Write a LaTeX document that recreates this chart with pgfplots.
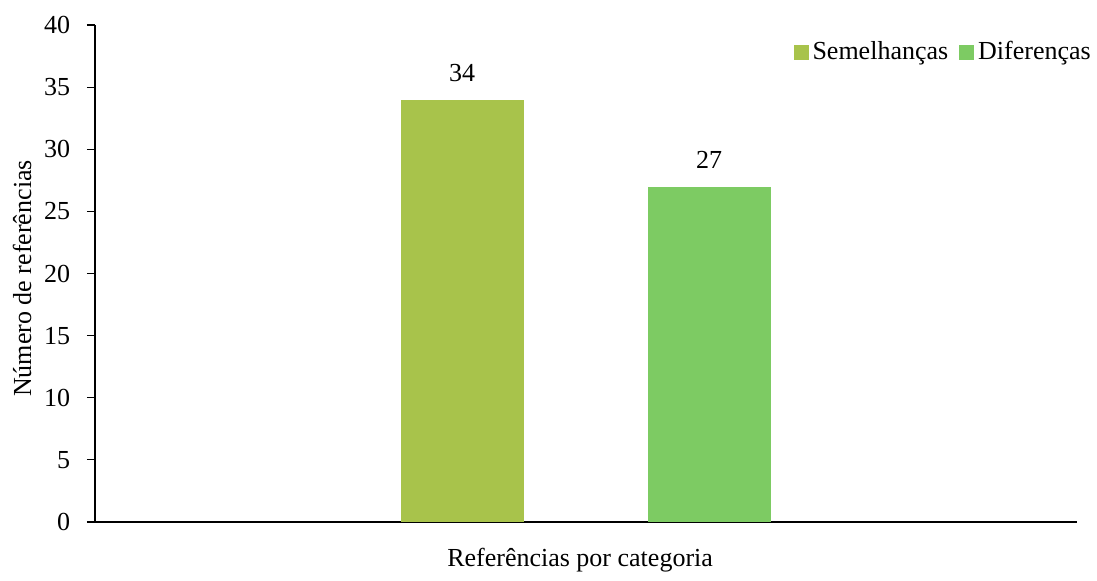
\documentclass[border=0pt]{standalone}
\usepackage{pgfplots}
\pgfplotsset{compat=1.18}
\usepackage{fontspec}
\setmainfont{Liberation Serif}
\definecolor{cA}{HTML}{A8C34B}
\definecolor{cB}{HTML}{7DCB63}
\begin{document}
\fontsize{26bp}{30bp}\selectfont
\begin{tikzpicture}
\begin{axis}[
  name=ax,
  scale only axis,
  width=982bp, height=497bp,
  xmin=-0.486, xmax=3.49,
  ymin=0, ymax=40,
  ytick={0,5,...,40},
  xtick=\empty,
  axis x line=bottom, axis y line=left,
  axis line style={-, line width=1.3bp},
  y axis line style={line width=1.1bp},
  tick style={black, line width=1.1bp},
  major tick length=8bp,
  tick align=outside,
  /pgf/number format/assume math mode=true,
  ticklabel style={font=\fontsize{26bp}{30bp}\selectfont},
  yticklabel style={xshift=-8bp},
  ylabel={Número de referências},
  ylabel style={font=\fontsize{26bp}{30bp}\selectfont, at={(axis description cs:-0.0743,0.49)}, anchor=center},
  xlabel={Referências por categoria},
  xlabel style={font=\fontsize{26bp}{30bp}\selectfont, at={(axis description cs:0.494,-0.0765)}, anchor=center},
  ybar, bar width=0.498, bar shift=0pt,
  nodes near coords,
  every node near coord/.append style={font=\fontsize{26bp}{30bp}\selectfont, yshift=9bp},
  legend style={draw=none, fill=none, at={(1.0163,0.945)}, anchor=east, inner sep=0pt, font=\fontsize{26bp}{30bp}\selectfont, legend columns=2,
    /tikz/every odd column/.append style={column sep=2bp},
    /tikz/every even column/.append style={column sep=9bp}},
  legend image code/.code={\fill[#1] (0bp,-7.5bp) rectangle (15bp,7.5bp);},
]
\addplot[fill=cA, draw=none] coordinates {(1,34)};
\addlegendentry{Semelhanças}
\addplot[fill=cB, draw=none] coordinates {(2,27)};
\addlegendentry{Diferenças}
\end{axis}
\path[use as bounding box] ([xshift=-95bp,yshift=-52bp]ax.south west) rectangle ([xshift=20bp,yshift=25bp]ax.north east);
\end{tikzpicture}
\end{document}
